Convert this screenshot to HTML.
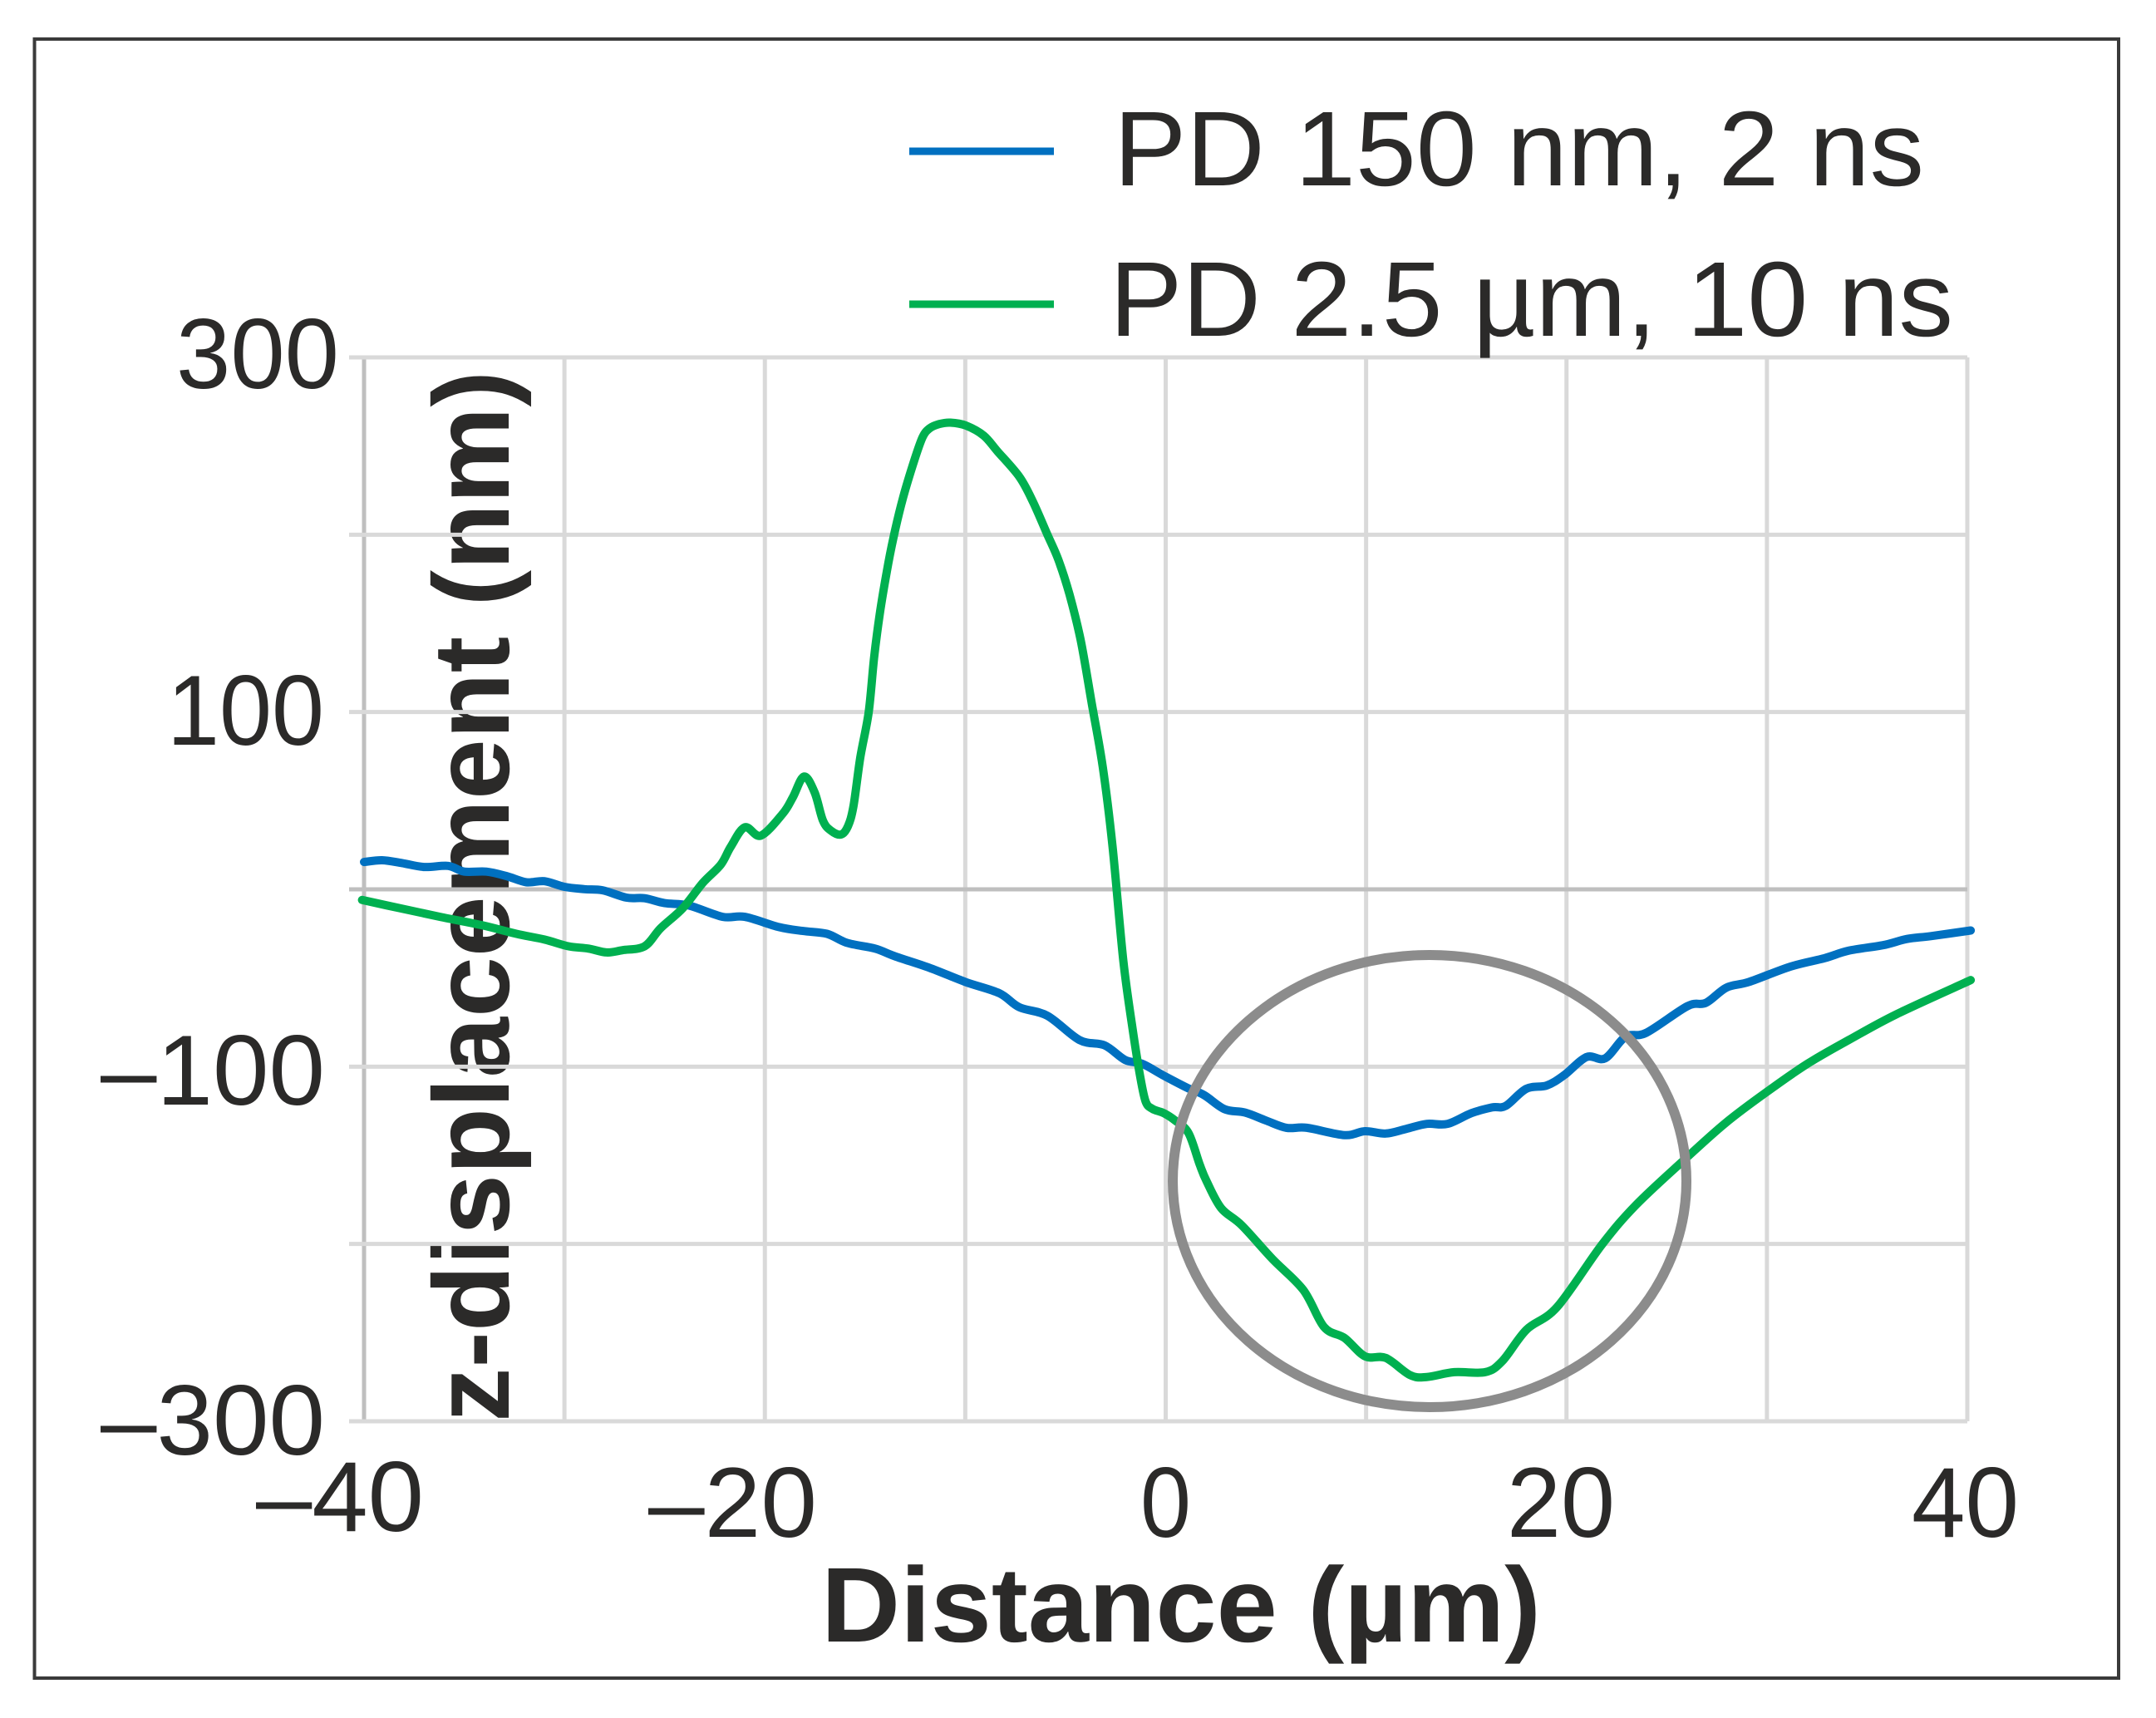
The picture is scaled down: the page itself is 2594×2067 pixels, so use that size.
<!DOCTYPE html>
<html lang="en">
<head>
<meta charset="utf-8">
<title>z-displacement vs distance</title>
<style>
html,body{margin:0;padding:0;background:#fff;}
svg{display:block;}
text{font-family:"Liberation Sans",sans-serif;fill:#2b2a29;}
</style>
</head>
<body>
<svg id="chart" xmlns="http://www.w3.org/2000/svg" width="2594" height="2067" viewBox="0 0 2594 2067">
  <rect x="0" y="0" width="2594" height="2067" fill="#fff"/>
  <rect x="41.5" y="47" width="2507.5" height="1972" fill="none" stroke="#3a3a3a" stroke-width="4"/>
  <text transform="translate(612,1711) rotate(-90)" font-size="130" font-weight="700" textLength="1265" lengthAdjust="spacingAndGlyphs">z-displacement (nm)</text>
  <g id="grid"></g>
  <g id="series"></g>
  <ellipse cx="1720" cy="1421" rx="309" ry="272" fill="none" stroke="#8c8c8c" stroke-width="12"/>

  <text x="212" y="467" font-size="120" textLength="196" lengthAdjust="spacingAndGlyphs">300</text>
  <text x="201" y="896" font-size="120" textLength="189" lengthAdjust="spacingAndGlyphs">100</text>
  <text x="121" y="1329" font-size="120" textLength="270" lengthAdjust="spacingAndGlyphs">–100</text>
  <text x="121" y="1750" font-size="120" textLength="270" lengthAdjust="spacingAndGlyphs">–300</text>

  <text x="308" y="1842" font-size="120" textLength="202" lengthAdjust="spacingAndGlyphs">–40</text>
  <text x="780" y="1849" font-size="120" textLength="203" lengthAdjust="spacingAndGlyphs">–20</text>
  <text x="1372" y="1849" font-size="120" textLength="61" lengthAdjust="spacingAndGlyphs">0</text>
  <text x="1813" y="1849" font-size="120" textLength="130" lengthAdjust="spacingAndGlyphs">20</text>
  <text x="2300" y="1849" font-size="120" textLength="129" lengthAdjust="spacingAndGlyphs">40</text>

  <text x="988" y="1975" font-size="128" font-weight="700" textLength="866" lengthAdjust="spacingAndGlyphs">Distance (µm)</text>

  <g>
    <line x1="1094" y1="182" x2="1268" y2="182" stroke="#0070c0" stroke-width="9"/>
    <text x="1340" y="223" font-size="128" textLength="975" lengthAdjust="spacingAndGlyphs">PD 150 nm, 2 ns</text>
    <line x1="1094" y1="366" x2="1268" y2="366" stroke="#00b050" stroke-width="9"/>
    <text x="1335" y="404" font-size="128" textLength="1015" lengthAdjust="spacingAndGlyphs">PD 2.5 µm, 10 ns</text>
  </g>
</svg>
<script>
const xTicks = [-40, -30, -20, -10, 0, 10, 20, 30, 40];
const yTicks = [300, 200, 100, 0, -100, -200, -300];

const blueDistance = [-40,-39.1,-38.1,-37,-35.8,-35,-33.9,-32.9,-31.9,-31,-30,-29,-28.1,-26.9,-26,-25,-23.8,-22.1,-21,-19.3,-18.1,-16.9,-15.9,-14.5,-13.5,-11.8,-10,-8.3,-7.3,-5.9,-4.3,-3.05,-2.03,-1.17,-0.14,1.05,1.91,2.94,3.96,4.99,6.02,7.04,8.92,9.95,10.98,12,13.03,14.06,15.26,16.28,16.97,17.99,19.02,19.88,21,21.93,22.95,23.98,26.03,26.96,27.98,29.11,31.17,32.88,34.08,35.79,36.99,38.18,40.17];
const blueDisplacement = [15.4,16.4,14.8,12.6,13.2,10,10,7.5,4,4.6,1.4,0.1,-0.5,-4.7,-5,-7.8,-9.1,-15.5,-15.5,-21.3,-23.5,-25.1,-30.2,-33.4,-37.8,-44.2,-52.2,-58.6,-66.5,-71.3,-85,-88,-96.2,-98.4,-104.8,-111.8,-116,-124,-125.9,-130.3,-134.5,-134.5,-138.6,-136.4,-137.7,-135.1,-132.3,-132.3,-126.2,-123,-122.1,-112.5,-110.6,-104.8,-94.6,-95.3,-83.1,-80.9,-65.9,-64,-55.4,-52.2,-43.6,-38.8,-34.6,-31.5,-28,-26.4,-23.2];

const greenDistance = [-40.1,-38.2,-36.2,-34.1,-32.4,-31,-29.8,-28.8,-27.9,-27.1,-26,-25.2,-24.1,-23.1,-22.2,-21.7,-21,-20.2,-19.1,-18.6,-18.05,-17.52,-17.1,-16.69,-16.2,-15.86,-15.58,-15.24,-14.82,-14.55,-14.27,-13.92,-13.58,-13.1,-12.54,-12.13,-11.78,-11.3,-10.74,-9.98,-9.08,-8.39,-7.29,-6.6,-5.9,-5.35,-4.8,-4.24,-3.69,-3.14,-2.65,-2.11,-1.62,-1.28,-1,-0.66,-0.1,0.45,1.14,1.7,2.04,2.77,3.79,5.33,6.87,7.9,8.92,9.95,10.98,12.2,13.03,14.4,15.94,16.8,18,19.53,21.76,23.47,25.86,27.91,29.97,32.02,34.08,36.47,40.17];
const greenDisplacement = [-6,-10.7,-15.5,-20.3,-25.1,-28.3,-32.1,-33.4,-35.6,-34.3,-32.1,-21.9,-10.7,3.6,13.9,24.1,35,30.3,42.8,52,63.6,54.8,38.7,33,30.9,35.5,46.8,74.2,100,130.8,155,179,198.6,221,242,255,260,262.4,263.2,261.6,255.9,247,232.5,218,200,185.7,166.3,140.4,105,69,24,-40.6,-81,-105,-119.7,-123.8,-126.2,-130.2,-137.5,-155.3,-164.6,-179.8,-189.4,-208.5,-226,-246.8,-253,-263.4,-264.3,-274,-275,-272.3,-272.3,-266,-248.4,-235.6,-200.5,-178,-152.7,-132,-114.4,-98.4,-85,-70.4,-51.2];

const SVG_NS = 'http://www.w3.org/2000/svg';
const plot = { left: 438, right: 2367, top: 430, bottom: 1710 };
function xScale(v) { return plot.left + (v + 40) / 80 * (plot.right - plot.left); }
function yScale(v) { return plot.top + (300 - v) / 600 * (plot.bottom - plot.top); }

function smoothPath(xs, ys) {
  const p = xs.map(function (x, i) { return [xScale(x), yScale(ys[i])]; });
  let d = 'M' + p[0][0].toFixed(1) + ' ' + p[0][1].toFixed(1);
  for (let i = 0; i < p.length - 1; i++) {
    const a = p[Math.max(i - 1, 0)], b = p[i], c = p[i + 1], e = p[Math.min(i + 2, p.length - 1)];
    const c1x = b[0] + (c[0] - a[0]) / 6, c1y = b[1] + (c[1] - a[1]) / 6;
    const c2x = c[0] - (e[0] - b[0]) / 6, c2y = c[1] - (e[1] - b[1]) / 6;
    d += 'C' + c1x.toFixed(1) + ' ' + c1y.toFixed(1) + ' ' + c2x.toFixed(1) + ' ' + c2y.toFixed(1) + ' ' + c[0].toFixed(1) + ' ' + c[1].toFixed(1);
  }
  return d;
}

const grid = document.getElementById('grid');
xTicks.forEach(function (t) {
  const line = document.createElementNS(SVG_NS, 'line');
  
  
  line.setAttribute('x1', xScale(t));
  line.setAttribute('x2', xScale(t));
  line.setAttribute('y1', plot.top);
  line.setAttribute('y2', plot.bottom);
  line.setAttribute('stroke', t === -40 ? '#bfbfbf' : '#d9d9d9');
  line.setAttribute('stroke-width', '5');
  grid.appendChild(line);
});
yTicks.forEach(function (t) {
  const line = document.createElementNS(SVG_NS, 'line');
  
  
  line.setAttribute('x1', plot.left - 18);
  line.setAttribute('x2', plot.right);
  line.setAttribute('y1', yScale(t));
  line.setAttribute('y2', yScale(t));
  line.setAttribute('stroke', t === 0 ? '#bfbfbf' : '#d9d9d9');
  line.setAttribute('stroke-width', '5');
  grid.appendChild(line);
});

const seriesGroup = document.getElementById('series');
const bluePath = document.createElementNS(SVG_NS, 'path');


bluePath.setAttribute('d', smoothPath(blueDistance, blueDisplacement));
bluePath.setAttribute('fill', 'none');
bluePath.setAttribute('stroke', '#0070c0');
bluePath.setAttribute('stroke-width', '10');
bluePath.setAttribute('stroke-linecap', 'round');
bluePath.setAttribute('stroke-linejoin', 'round');
seriesGroup.appendChild(bluePath);

const greenPath = document.createElementNS(SVG_NS, 'path');


greenPath.setAttribute('d', smoothPath(greenDistance, greenDisplacement));
greenPath.setAttribute('fill', 'none');
greenPath.setAttribute('stroke', '#00b050');
greenPath.setAttribute('stroke-width', '10');
greenPath.setAttribute('stroke-linecap', 'round');
greenPath.setAttribute('stroke-linejoin', 'round');
seriesGroup.appendChild(greenPath);
</script>
</body>
</html>
